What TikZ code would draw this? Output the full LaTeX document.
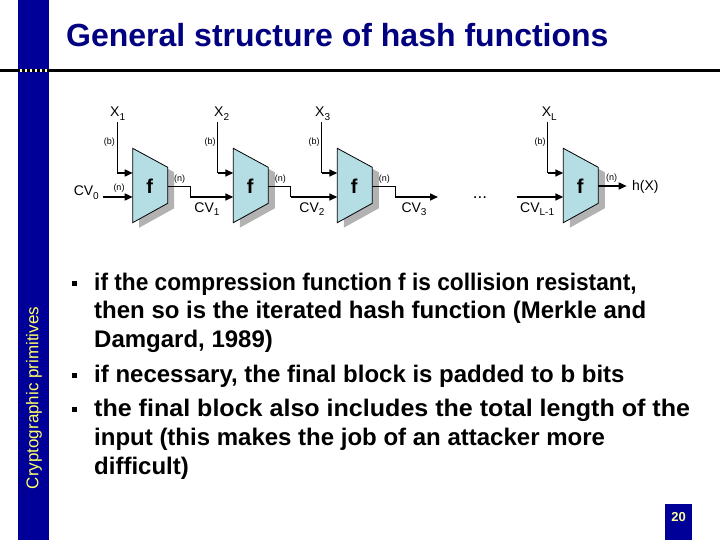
\documentclass[tikz,border=0pt]{standalone}
\usepackage{fontspec}
\usepackage{graphicx}
\setmainfont{Liberation Sans}
\usetikzlibrary{arrows.meta}
\definecolor{barblue}{RGB}{0,0,153}
\definecolor{titleblue}{RGB}{0,0,128}
\definecolor{sideyellow}{RGB}{255,255,102}
\definecolor{numyellow}{RGB}{255,255,153}
\definecolor{fblue}{RGB}{180,221,228}
\definecolor{shadowgray}{RGB}{178,178,178}
\definecolor{dotcream}{RGB}{255,255,204}
\newcommand\subtxt[1]{\raisebox{-3.5pt}{\fontsize{10}{10}\selectfont #1}}
\newcommand\hashblock[2]{%
  \fill[shadowgray] (#2+6.5,148.3+5) -- (#2+41.5,167.3+5) -- (#2+41.5,203.3+5) -- (#2+6.5,222.7+5) -- cycle;
  \draw[fill=fblue, line width=0.8pt] (#2,148.3) -- (#2+35,167.3) -- (#2+35,203.3) -- (#2,222.7) -- cycle;
  \node[flabel] (#1) at (#2+17,186) {f};
  \coordinate (#1-b) at (#2,173);
  \coordinate (#1-n) at (#2,197);
  \coordinate (#1-o) at (#2+35,186);
}
\begin{document}
\begin{tikzpicture}[x=1pt,y=-1pt,
  thinline/.style={line width=0.8pt},
  arrowline/.style={line width=1.6pt,-{Triangle[length=8pt,width=7pt]}},
  flabel/.style={font=\fontsize{20}{20}\selectfont\bfseries, inner sep=0pt},
  varlabel/.style={font=\fontsize{14}{14}\selectfont, inner sep=0pt},
  smalllabel/.style={font=\fontsize{9}{9}\selectfont, inner sep=0pt},
  bodyline/.style={anchor=base west, inner sep=0pt, font=\fontsize{24}{24}\selectfont\bfseries},
  bulletsq/.style={fill=black, minimum size=5pt, inner sep=0pt},
]
\useasboundingbox (0,0) rectangle (720,540);
\fill[white] (0,0) rectangle (720,540);
\fill[barblue] (18,0) rectangle (49,540);
\draw[line width=3pt] (0,71) -- (720,71);
\foreach \i in {0,...,5} \fill[dotcream] (19.5+5*\i,69.5) rectangle ++(2.5,3);

\node[anchor=base west, inner sep=0pt, text=titleblue, font=\fontsize{32}{32}\selectfont\bfseries] (title) at (66,47) {General structure of hash functions};
\node[rotate=90, text=sideyellow, font=\fontsize{17}{17}\selectfont, inner sep=0pt] (side) at (34,398) {Cryptographic primitives};

% blocks
\hashblock{f1}{132.7}
\hashblock{f2}{233.3}
\hashblock{f3}{337.3}
\hashblock{f4}{563.3}

% block inputs
\node[varlabel, anchor=base west] (x1) at (110,117) {X\subtxt{1}};
\node[varlabel, anchor=base west] (x2) at (214,117) {X\subtxt{2}};
\node[varlabel, anchor=base west] (x3) at (315,117) {X\subtxt{3}};
\node[varlabel, anchor=base west] (x4) at (541.7,117) {X\subtxt{L}};
\coordinate (x1t) at (116.9,122); \coordinate (x1c) at (116.9,173);
\coordinate (x2t) at (217.5,122); \coordinate (x2c) at (217.5,173);
\coordinate (x3t) at (321.5,122); \coordinate (x3c) at (321.5,173);
\coordinate (x4t) at (547.5,122); \coordinate (x4c) at (547.5,173);
\foreach \k in {1,2,3,4} {
  \draw[thinline] (x\k t) -- (x\k c);
  \draw[arrowline] (x\k c) -- (f\k-b);
}
\node[smalllabel] (b1) at (109.4,142.5) {(b)};
\node[smalllabel] (b2) at (210,142.5) {(b)};
\node[smalllabel] (b3) at (314,142.5) {(b)};
\node[smalllabel] (b4) at (540,142.5) {(b)};

% chaining values
\node[varlabel, anchor=base east] (cv0) at (99,196) {CV\subtxt{0}};
\coordinate (cv0s) at (102.5,197);
\draw[arrowline] (cv0s) -- (f1-n);
\node[smalllabel] (n0) at (119,188.5) {(n)};

\coordinate (s1) at (190.2,197);
\coordinate (s2) at (290.8,197);
\coordinate (s3) at (395,197);
\coordinate (cv3e) at (438,197);
\draw[thinline] (f1-o) -| (s1);
\draw[arrowline] (s1) -- (f2-n);
\draw[thinline] (f2-o) -| (s2);
\draw[arrowline] (s2) -- (f3-n);
\draw[thinline] (f3-o) -| (s3);
\draw[arrowline] (s3) -- (cv3e);
\node[smalllabel] (n1) at (179.7,179) {(n)};
\node[smalllabel] (n2) at (280.3,179) {(n)};
\node[smalllabel] (n3) at (384.3,179) {(n)};
\node[varlabel, anchor=base] (cv1) at (207,212) {CV\subtxt{1}};
\node[varlabel, anchor=base] (cv2) at (312,212) {CV\subtxt{2}};
\node[varlabel, anchor=base] (cv3) at (414,212) {CV\subtxt{3}};

\node[font=\fontsize{17}{17}\selectfont, inner sep=0pt, anchor=base] (dots) at (480,199) {...};

\coordinate (cvls) at (516.7,197);
\draw[arrowline] (cvls) -- (f4-n);
\node[varlabel, anchor=base west] (cvl) at (520,212) {CV\subtxt{L-1}};

\node[varlabel, anchor=base west] (hx) at (632,190.5) {h(X)};
\coordinate (hxe) at (626.7,186);
\draw[arrowline] (f4-o) -- (hxe);
\node[smalllabel] (n4) at (611.7,178.5) {(n)};

% body text
\node[bulletsq] (u1) at (74,283) {};
\node[bulletsq] (u2) at (74,375) {};
\node[bulletsq] (u3) at (74,409) {};
\node[bodyline] (l1) at (94,290) {\scalebox{0.946}[1]{if the compression function f is collision resistant,}};
\node[bodyline] (l2) at (94,318.5) {then so is the iterated hash function (Merkle and};
\node[bodyline] (l3) at (94,347) {Damgard, 1989)};
\node[bodyline] (l4) at (94,382) {if necessary, the final block is padded to b bits};
\node[bodyline] (l5) at (94,416) {\scalebox{1.044}[1]{the final block also includes the total length of the}};
\node[bodyline] (l6) at (94,445) {input (this makes the job of an attacker more};
\node[bodyline] (l7) at (94,474) {difficult)};

% page number
\fill[barblue] (665,504) rectangle (692,540);
\node[text=numyellow, font=\fontsize{13}{13}\selectfont\bfseries, inner sep=0pt] (pg) at (678.5,517) {20};
\end{tikzpicture}
\end{document}
